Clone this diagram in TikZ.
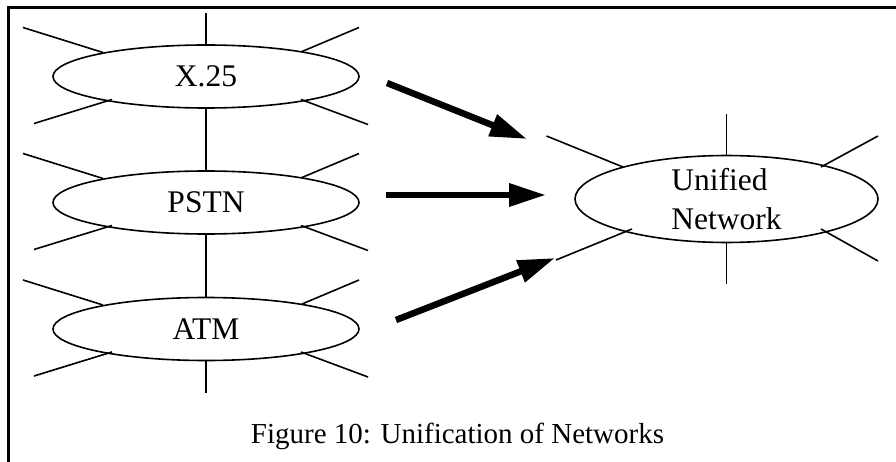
\documentclass[tikz,border=0pt]{standalone}
\usepackage{fontspec}
\setmainfont{Liberation Serif}
\usetikzlibrary{shapes.geometric,arrows.meta,calc}

\tikzset{
  net/.style={draw,ellipse,line width=1.6pt,minimum width=306pt,minimum height=63pt,
    inner sep=0pt,outer sep=0pt,font=\fontsize{31.5}{39}\selectfont},
  spoke/.style={line width=1.6pt},
  bigarrow/.style={line width=6.5pt,-{Triangle[length=37pt,width=22pt]}},
  frameline/.style={line width=2.7pt},
}

\begin{document}
\begin{tikzpicture}[x=1pt,y=-1pt]
\useasboundingbox (0,0) rectangle (896,462);
% frame
\draw[frameline] (8.5,470) -- (8.5,7.5) -- (900,7.5);

% the three networks
\node[net] (x25) at (206,76.5) {X.25};
\node[net] (pstn) at (206,202.5) {PSTN};
\node[net] (atm) at (206,329) {ATM};
\foreach \n in {x25,pstn,atm}{
  \draw[spoke] ($(\n)+(-103,-24)$) -- ($(\n)+(-183,-49)$);
  \draw[spoke] ($(\n)+(-94,23)$) -- ($(\n)+(-172,47)$);
  \draw[spoke] ($(\n)+(96,-25)$) -- ($(\n)+(153,-49)$);
  \draw[spoke] ($(\n)+(95,23)$) -- ($(\n)+(162,48)$);
  \draw[spoke] (\n.north) -- ++(0,-32);
  \draw[spoke] (\n.south) -- ++(0,32.5);
}

% unified network
\node[net,minimum width=303pt,minimum height=84pt,align=left] (unified) at (726.5,199) {Unified\\Network};
\draw[spoke] ($(unified)+(-103.5,-32)$) -- ($(unified)+(-180,-63)$);
\draw[spoke] ($(unified)+(-94.5,30)$) -- ($(unified)+(-170.5,61)$);
\draw[spoke] ($(unified)+(94.5,-32)$) -- ($(unified)+(151.5,-63)$);
\draw[spoke] ($(unified)+(94.5,30)$) -- ($(unified)+(151.5,62)$);
\draw[spoke] (unified.north) -- ++(0,-42);
\draw[spoke] (unified.south) -- ++(0,42);

% arrows
\draw[bigarrow] ($(x25.east)+(28,6.5)$) -- ($(unified.west)+(-48,-60)$);
\draw[bigarrow] ($(pstn.east)+(27,-7.5)$) -- ($(unified.west)+(-29,-4)$);
\draw[bigarrow] ($(atm.east)+(37,-9)$) -- ($(unified.west)+(-20,59)$);

\node[anchor=base,font=\fontsize{29}{34}\selectfont] (caption) at (457.5,443) {Figure 10: Unification of Networks};
\end{tikzpicture}
\end{document}
